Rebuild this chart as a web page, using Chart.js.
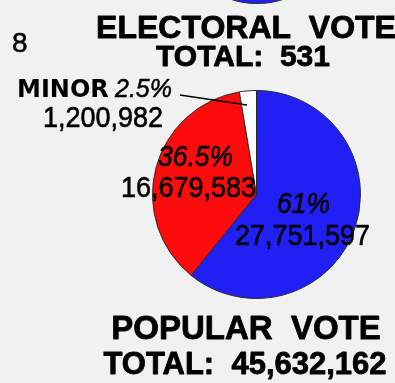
<!DOCTYPE html>
<html>
<head>
<meta charset="utf-8">
<script src="https://cdn.jsdelivr.net/npm/chart.js@4.4.1/dist/chart.umd.min.js"></script>
<style>
  html, body { margin: 0; padding: 0; background: #f1f1f1; }
  #wrap { position: relative; width: 395px; height: 383px; overflow: hidden; }
  #electoralPie {
    position: absolute; left: 218px; top: -28px; width: 76px; height: 30px;
    border-radius: 50%; background: #2020f6; border: 1px solid #333;
  }
</style>
</head>
<body>
<div id="wrap">
  <div id="electoralPie"></div>
  <canvas id="popularChart"></canvas>
</div>
<script>
// 1936 popular vote
const candidates = ['Roosevelt', 'Landon', 'Minor'];
const popularVotes = [27751597, 16679583, 1200982];
const percentLabels = ['61%', '36.5%', '2.5%'];
const voteLabels = ['27,751,597', '16,679,583', '1,200,982'];
const sliceColors = ['#2020f6', '#ff0b0b', '#ffffff'];

const electoralTotal = 531;
const popularTotal = '45,632,162';
const landonElectoral = 8;

// where each slice's text sits, relative to the pie centre
const labelOffsets = [
    { pct: [47, 18], num: [46, 50] },
    { pct: [-61, -29], num: [-68, 2] }
];

// fill + thin stroke so the text looks as heavy as the print
function heavyText(ctx, text, x, y, sx, weight) {
    ctx.save();
    ctx.translate(x, y);
    ctx.scale(sx, 1);
    ctx.fillText(text, 0, 0);
    if (weight) {
        ctx.lineWidth = weight;
        ctx.strokeText(text, 0, 0);
    }
    ctx.restore();
}

const textPlugin = {
    id: 'voteText',
    afterDatasetsDraw(chart) {
        const ctx = chart.ctx;
        const arc = chart.getDatasetMeta(0).data[0];
        const cx = arc.x, cy = arc.y;
        ctx.save();
        ctx.fillStyle = '#000';
        ctx.strokeStyle = '#000';
        ctx.lineJoin = 'round';
        ctx.textBaseline = 'alphabetic';
        ctx.textAlign = 'center';

        // big slices
        for (let i = 0; i < 2; i++) {
            const o = labelOffsets[i];
            ctx.font = 'italic 30px "Liberation Sans", Arial, sans-serif';
            heavyText(ctx, percentLabels[i], cx + o.pct[0], cy + o.pct[1], 0.88, 0.6);
            ctx.font = '30px "Liberation Sans", Arial, sans-serif';
            heavyText(ctx, voteLabels[i], cx + o.num[0], cy + o.num[1], 0.9, 0.6);
        }

        // minor parties, outside with leader line
        ctx.textAlign = 'left';
        ctx.font = 'bold 24px "DejaVu Sans", sans-serif';
        heavyText(ctx, 'MINOR', 17, 97, 1, 0);
        ctx.font = 'italic 25px "Liberation Sans", Arial, sans-serif';
        heavyText(ctx, percentLabels[2], 115, 97, 1, 0.5);
        ctx.textAlign = 'center';
        ctx.font = '30px "Liberation Sans", Arial, sans-serif';
        heavyText(ctx, voteLabels[2], 103, 127, 0.9, 0.6);
        ctx.lineWidth = 1.3;
        ctx.beginPath();
        ctx.moveTo(180, 95);
        ctx.lineTo(247, 105);
        ctx.stroke();

        // titles
        ctx.textAlign = 'center';
        ctx.font = 'bold 32px "Liberation Sans", Arial, sans-serif';
        heavyText(ctx, 'ELECTORAL  VOTE', 246, 38, 1, 0.8);
        ctx.font = 'bold 30px "Liberation Sans", Arial, sans-serif';
        heavyText(ctx, 'TOTAL:  ' + electoralTotal, 243, 66, 1, 0.8);
        ctx.font = 'bold 33px "Liberation Sans", Arial, sans-serif';
        heavyText(ctx, 'POPULAR  VOTE', 246, 339, 1, 0.8);
        ctx.font = 'bold 31px "Liberation Sans", Arial, sans-serif';
        heavyText(ctx, 'TOTAL:  ' + popularTotal, 245, 374, 1, 0.8);

        ctx.textAlign = 'left';
        ctx.font = '28px "Liberation Sans", Arial, sans-serif';
        heavyText(ctx, String(landonElectoral), 12, 52, 1, 0.6);
        ctx.restore();
    }
};

const ctx = document.getElementById('popularChart').getContext('2d');
new Chart(ctx, {
    type: 'pie',
    data: {
        labels: candidates,
        datasets: [{
            data: popularVotes,
            backgroundColor: sliceColors,
            borderColor: '#2a2a2a',
            borderWidth: 1
        }]
    },
    options: {
        responsive: true,
        maintainAspectRatio: false,
        animation: false,
        layout: { padding: { left: 152, right: 34, top: 90, bottom: 84 } },
        plugins: {
            legend: { display: false },
            tooltip: { enabled: false }
        }
    },
    plugins: [textPlugin]
});
</script>
</body>
</html>
